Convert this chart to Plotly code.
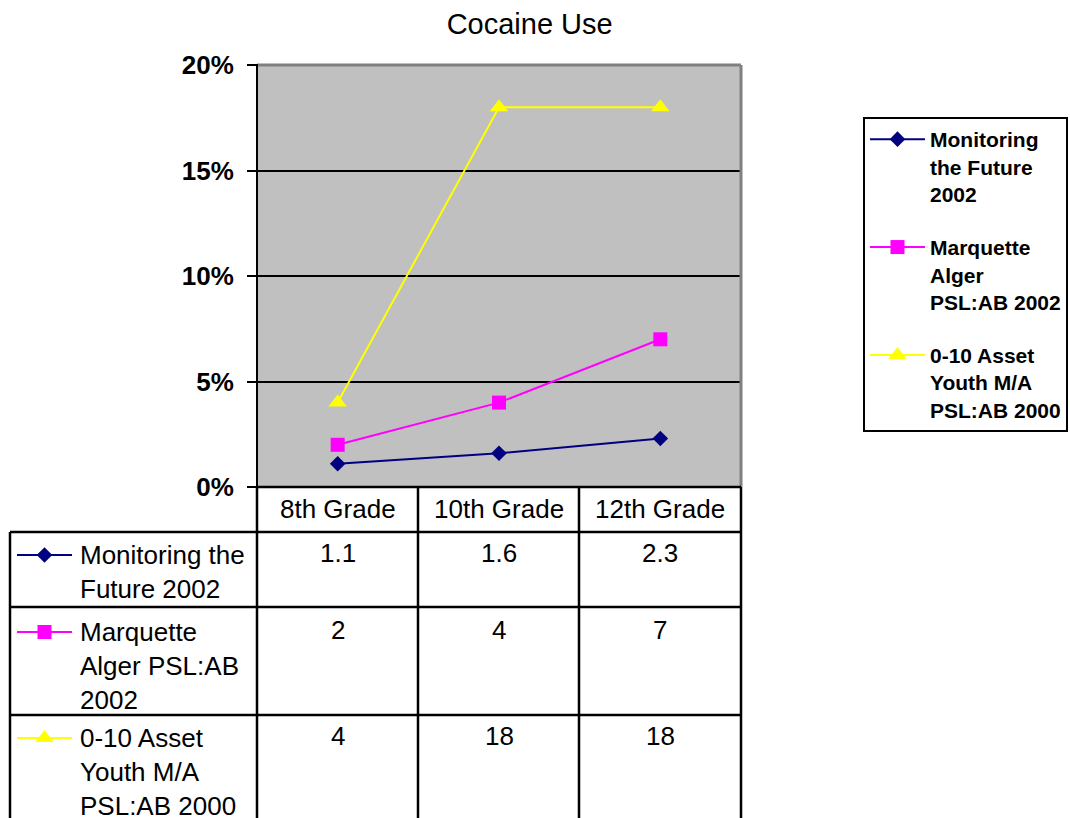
import plotly.graph_objects as go

# ---- data -------------------------------------------------------------
grades = ["8th Grade", "10th Grade", "12th Grade"]
series_names = [
    "Monitoring the Future 2002",
    "Marquette Alger PSL:AB 2002",
    "0-10 Asset Youth M/A PSL:AB 2000",
]
mtf_2002 = [1.1, 1.6, 2.3]
marquette_2002 = [2, 4, 7]
asset_2000 = [4, 18, 18]

# wrapped labels used in the legend and in the data table
legend_labels = [
    "Monitoring<br>the Future<br>2002",
    "Marquette<br>Alger<br>PSL:AB 2002",
    "0-10 Asset<br>Youth M/A<br>PSL:AB 2000",
]
table_labels = [
    "Monitoring the<br>Future 2002",
    "Marquette<br>Alger PSL:AB<br>2002",
    "0-10 Asset<br>Youth M/A<br>PSL:AB 2000",
]
y_ticks = [0, 5, 10, 15, 20]
y_ticktext = ["0%", "5%", "10%", "15%", "20%"]

# ---- styling ----------------------------------------------------------
W, H = 1070, 818
FONT = "Liberation Sans, Arial, sans-serif"
colors = ["#000080", "#FF00FF", "#FFFF00"]
symbols = ["diamond", "square", "triangle-up"]
msizes = [12, 14, 16]
values = [mtf_2002, marquette_2002, asset_2000]

# layout geometry in pixels
PLOT_L, PLOT_R, PLOT_T, PLOT_B = 257, 741, 65, 487
TABLE_L = 10
COL_EDGES = [PLOT_L, 418, 579, PLOT_R]
ROW_EDGES = [532, 607, 715, H]
HEADER_CY = 509
ROW_FIRST_LINE = [555, 632, 738]
KEY_X0, KEY_X1 = 17, 72


def px(x):
    return x / W


def py(y):
    return 1 - y / H


fig = go.Figure()

# series on the main chart
for name, lab, vals, c, s, ms in zip(series_names, legend_labels, values,
                                     colors, symbols, msizes):
    fig.add_trace(go.Scatter(
        x=grades, y=vals, name=lab, mode="lines+markers",
        line=dict(color=c, width=2),
        marker=dict(symbol=s, size=ms, color=c),
        legendgroup=name, cliponaxis=False,
    ))

# key symbols inside the data table (full-figure pixel axes)
for i, (c, s, ms) in enumerate(zip(colors, symbols, msizes)):
    yk = ROW_FIRST_LINE[i]
    fig.add_trace(go.Scatter(
        x=[KEY_X0, (KEY_X0 + KEY_X1) / 2, KEY_X1], y=[yk, yk, yk],
        mode="lines", line=dict(color=c, width=2),
        xaxis="x2", yaxis="y2", showlegend=False, hoverinfo="skip",
    ))
    fig.add_trace(go.Scatter(
        x=[(KEY_X0 + KEY_X1) / 2], y=[yk], mode="markers",
        marker=dict(symbol=s, size=ms, color=c),
        xaxis="x2", yaxis="y2", showlegend=False, hoverinfo="skip",
    ))

shapes = []
# plot area background
shapes.append(dict(type="rect", xref="x domain", yref="y domain",
                   x0=0, x1=1, y0=0, y1=1, fillcolor="#C0C0C0",
                   line=dict(width=0), layer="below"))
# plot area frame: grey top/right, black left axis
shapes.append(dict(type="line", xref="paper", yref="paper",
                   x0=px(PLOT_L), x1=px(PLOT_R), y0=py(PLOT_T), y1=py(PLOT_T),
                   line=dict(color="#808080", width=3)))
shapes.append(dict(type="line", xref="paper", yref="paper",
                   x0=px(PLOT_R), x1=px(PLOT_R), y0=py(PLOT_T), y1=py(PLOT_B),
                   line=dict(color="#808080", width=3)))
shapes.append(dict(type="line", xref="paper", yref="paper",
                   x0=px(PLOT_L), x1=px(PLOT_L), y0=py(PLOT_T - 1), y1=py(PLOT_B),
                   line=dict(color="black", width=2)))

# data table grid
tline = dict(color="black", width=2.5)
shapes.append(dict(type="line", xref="paper", yref="paper",
                   x0=px(PLOT_L), x1=px(PLOT_R), y0=py(PLOT_B), y1=py(PLOT_B),
                   line=tline))
for yr in ROW_EDGES[:-1]:
    shapes.append(dict(type="line", xref="paper", yref="paper",
                       x0=px(TABLE_L), x1=px(PLOT_R), y0=py(yr), y1=py(yr),
                       line=tline))
shapes.append(dict(type="line", xref="paper", yref="paper",
                   x0=px(TABLE_L), x1=px(TABLE_L), y0=py(ROW_EDGES[0]), y1=py(H),
                   line=tline))
for xc in COL_EDGES:
    shapes.append(dict(type="line", xref="paper", yref="paper",
                       x0=px(xc), x1=px(xc), y0=py(PLOT_B), y1=py(H),
                       line=tline))

annotations = []
tfont = dict(family=FONT, size=26, color="black")
# header row: grade names
for g in grades:
    annotations.append(dict(x=g, xref="x", y=py(HEADER_CY), yref="paper",
                            text=g, showarrow=False, xanchor="center",
                            yanchor="middle", font=tfont))
# row labels and values
for i, (lab, vals) in enumerate(zip(table_labels, values)):
    top = ROW_FIRST_LINE[i] - 17
    annotations.append(dict(x=px(78), xref="paper", y=py(top), yref="paper",
                            text=lab, showarrow=False, xanchor="left",
                            yanchor="top", align="left", font=tfont))
    for g, v in zip(grades, vals):
        annotations.append(dict(x=g, xref="x", y=py(top - 2), yref="paper",
                                text=f"{v:g}", showarrow=False,
                                xanchor="center", yanchor="top", font=tfont))

fig.update_layout(
    width=W, height=H,
    margin=dict(l=0, r=0, t=0, b=0, autoexpand=False),
    paper_bgcolor="white",
    plot_bgcolor="rgba(0,0,0,0)",
    title=dict(text="Cocaine Use", x=0.495, xanchor="center",
               y=py(24), yanchor="middle",
               font=dict(family=FONT, size=29, color="black")),
    xaxis=dict(domain=[px(PLOT_L), px(PLOT_R)], range=[-0.5, 2.5],
               showticklabels=False, showgrid=False, zeroline=False,
               showline=False, ticks="", fixedrange=True),
    yaxis=dict(domain=[py(PLOT_B), py(PLOT_T)], range=[0, 20],
               tickvals=y_ticks, ticktext=y_ticktext,
               ticks="outside", ticklen=9, tickwidth=2, tickcolor="black",
               ticklabelstandoff=8,
               tickfont=dict(family=FONT, size=26, color="black", weight="bold"),
               showgrid=True, gridcolor="black", gridwidth=2,
               zeroline=False, showline=False, fixedrange=True),
    xaxis2=dict(domain=[0, 1], range=[0, W], anchor="y2", visible=False,
                fixedrange=True),
    yaxis2=dict(domain=[0, 1], range=[H, 0], anchor="x2", visible=False,
                fixedrange=True),
    legend=dict(x=px(863), xanchor="left", y=py(117), yanchor="top",
                bgcolor="white", bordercolor="black", borderwidth=2,
                font=dict(family=FONT, size=21, color="black", weight="bold"),
                itemwidth=55, valign="top", tracegroupgap=23,
                traceorder="grouped"),
    shapes=shapes,
    annotations=annotations,
    showlegend=True,
)

fig.write_html("out.html")
